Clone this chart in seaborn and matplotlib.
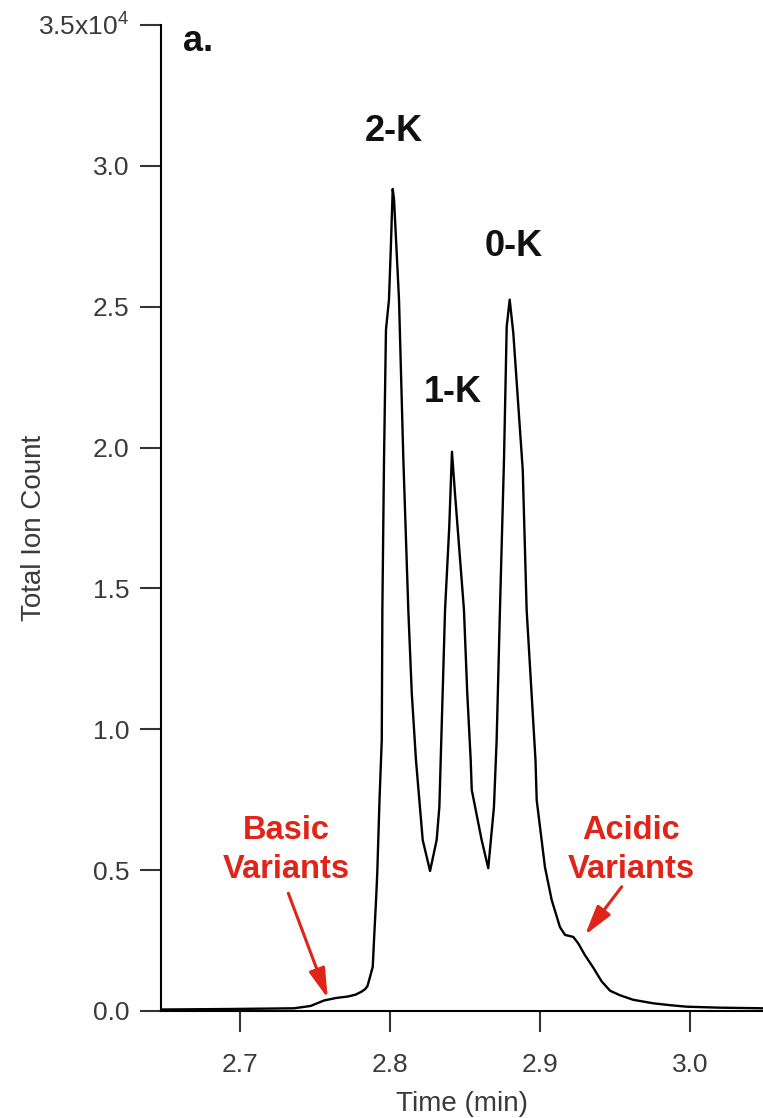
import numpy as np
import pandas as pd
import matplotlib
matplotlib.use("Agg")
import matplotlib.pyplot as plt
from matplotlib.ticker import FixedLocator, FuncFormatter
import seaborn as sns

# Total ion chromatogram: retention time (min) and total ion count
time_min = [
    2.648, 2.693, 2.736, 2.747, 2.756, 2.764, 2.772, 2.777, 2.781, 2.7835, 2.785, 2.787,
    2.7885, 2.7895, 2.7907, 2.7915, 2.793, 2.7945, 2.7949, 2.796, 2.7973, 2.7993,
    2.8005, 2.8018, 2.8027, 2.806, 2.8089, 2.8122, 2.8145, 2.8173, 2.8218, 2.8267,
    2.8311, 2.8329, 2.834, 2.8367, 2.8395, 2.8413, 2.8433, 2.8493, 2.8515, 2.8538,
    2.8545, 2.8611, 2.8655, 2.8693, 2.8711, 2.8733, 2.876, 2.8778, 2.8798, 2.8822,
    2.8885, 2.8911, 2.897, 2.8978, 2.9005, 2.9033, 2.9078, 2.9133, 2.9167, 2.9222,
    2.9255, 2.930, 2.9355, 2.941, 2.9467, 2.9533, 2.962, 2.9755, 2.987, 2.9978,
    3.020, 3.0487,
]
ion_count = [
    53, 71, 96, 178, 373, 462, 515, 580, 685, 780, 888, 1278,
    1573, 2699, 3942, 4901, 7493, 9624, 14240, 19570, 24180, 25250,
    27020, 29180, 28790, 25250, 19570, 14240, 11290, 8910, 6070, 4970,
    6070, 7240, 9270, 14240, 17190, 19850, 18390, 14240, 11290, 8910,
    7850, 6070, 5070, 7240, 9620, 14240, 19570, 24290, 25250, 24070,
    19210, 14240, 8910, 7490, 6320, 5110, 3940, 2980, 2700, 2630,
    2400, 1980, 1540, 1060, 720, 560, 400, 273, 205, 153,
    118, 96,
]

# Peak and variant annotations
peak_labels = ["2-K", "1-K", "0-K"]
peak_label_time = [2.8027, 2.842, 2.8827]
peak_label_count = [31210, 21950, 27130]

variant_labels = ["Basic\nVariants", "Acidic\nVariants"]
variant_label_time = [2.7307, 2.9607]
variant_label_count = [5720, 5720]
arrow_tail_time = [2.7322, 2.9545]
arrow_tail_count = [4180, 4410]
arrow_tip_time = [2.7585, 2.930]
arrow_tip_count = [450, 2700]

x_ticks = [2.7, 2.8, 2.9, 3.0]
y_ticks = [0, 5000, 10000, 15000, 20000, 25000, 30000, 35000]

sns.set_style("ticks")
plt.rcParams["font.family"] = ["Liberation Sans", "DejaVu Sans"]
plt.rcParams["mathtext.fontset"] = "custom"
plt.rcParams["mathtext.rm"] = "Liberation Sans"
plt.rcParams["mathtext.it"] = "Liberation Sans:italic"
plt.rcParams["mathtext.bf"] = "Liberation Sans:bold"

text_grey = "#3a3a3a"
red = "#e02418"

fig = plt.figure(figsize=(7.63, 11.18), dpi=100)
ax = fig.add_axes([161 / 763, 1 - 1011 / 1118, (763 - 161) / 763, (1011 - 25) / 1118])

df = pd.DataFrame({"Time (min)": time_min, "Total Ion Count": ion_count})
sns.lineplot(data=df, x="Time (min)", y="Total Ion Count", ax=ax,
             color="black", linewidth=1.7, estimator=None, sort=False)

ax.set_xlim(2.6473, 3.0487)
ax.set_ylim(0, 35000)

ax.xaxis.set_major_locator(FixedLocator(x_ticks))
ax.xaxis.set_major_formatter(FuncFormatter(lambda v, p: f"{v:.1f}"))
ax.yaxis.set_major_locator(FixedLocator(y_ticks))


def y_fmt(v, pos):
    if abs(v - 35000) < 1:
        return r"3.5x10$^{4}$"
    return f"{v / 1e4:.1f}"


ax.yaxis.set_major_formatter(FuncFormatter(y_fmt))

for side in ("top", "right"):
    ax.spines[side].set_visible(False)
for side in ("left", "bottom"):
    ax.spines[side].set_linewidth(1.5)
    ax.spines[side].set_color("black")

ax.tick_params(axis="both", which="major", length=15, width=1.5,
               color="#333333", labelsize=19, labelcolor=text_grey, direction="out")
ax.tick_params(axis="y", pad=8)
ax.tick_params(axis="x", pad=15)

ax.set_xlabel("Time (min)", fontsize=20, color=text_grey, labelpad=10)
ax.set_ylabel("Total Ion Count", fontsize=20, color=text_grey)
ax.yaxis.set_label_coords(-0.19, 0.49)

ax.text(2.672, 34410, "a.", fontsize=26, fontweight="bold",
        ha="center", va="center", color="#111111")

for lab, t, c in zip(peak_labels, peak_label_time, peak_label_count):
    ax.text(t, c, lab, fontsize=26, fontweight="bold",
            ha="center", va="center", color="#111111")

for lab, t, c in zip(variant_labels, variant_label_time, variant_label_count):
    ax.text(t, c, lab, fontsize=23.5, fontweight="bold", ha="center",
            va="center", color=red, linespacing=1.35, multialignment="center")

for tx, ty, hx, hy in zip(arrow_tail_time, arrow_tail_count, arrow_tip_time, arrow_tip_count):
    ax.annotate("", xy=(hx, hy), xytext=(tx, ty),
                arrowprops=dict(arrowstyle="-|>,head_length=0.9,head_width=0.25",
                                color=red, lw=2.2, mutation_scale=20,
                                shrinkA=0, shrinkB=0))

fig.savefig("out.png", dpi=100)
